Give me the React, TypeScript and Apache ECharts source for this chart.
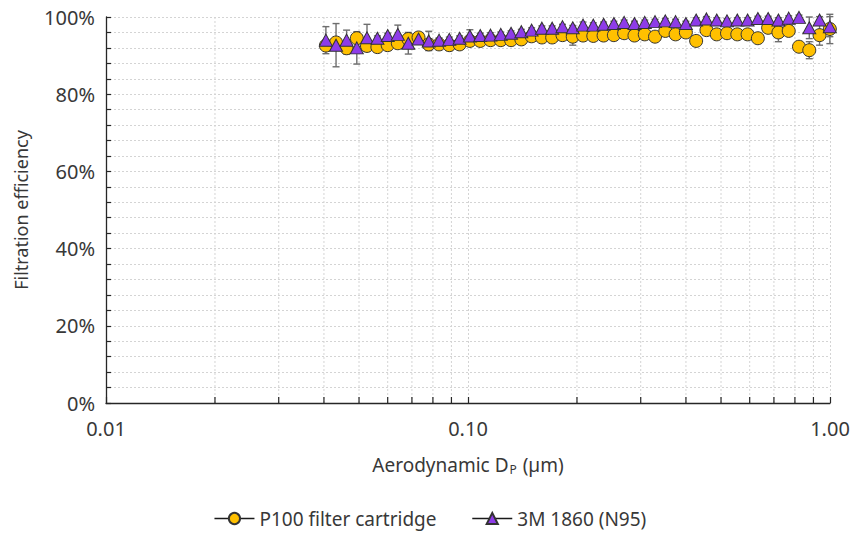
import React, { useEffect, useRef } from 'react';
import * as echarts from 'echarts';

// Aerodynamic diameter (µm) of each measured channel
const diameters = [
  0.0405, 0.0432, 0.0462, 0.0493, 0.0526, 0.0562, 0.0600, 0.0640, 0.0684, 0.0730,
  0.0779, 0.0832, 0.0888, 0.0948, 0.1012, 0.1081, 0.1154, 0.1232, 0.1315, 0.1404,
  0.1499, 0.1600, 0.1708, 0.1824, 0.1947, 0.2079, 0.2219, 0.2369, 0.2529, 0.2700,
  0.2883, 0.3078, 0.3286, 0.3508, 0.3745, 0.3998, 0.4268, 0.4557, 0.4865, 0.5194,
  0.5545, 0.5920, 0.6320, 0.6747, 0.7203, 0.7690, 0.8210, 0.8765, 0.9357, 0.9990,
];

// Filtration efficiency (%) – P100 filter cartridge
const p100Eff = [
  92.6, 93.4, 91.9, 94.5, 92.5, 92.2, 92.7, 93.2, 94.3, 94.7,
  92.9, 92.9, 92.7, 92.9, 93.8, 93.8, 94.0, 94.0, 94.0, 94.2,
  95.0, 94.7, 94.7, 95.3, 94.9, 95.2, 95.1, 95.2, 95.3, 95.8,
  95.2, 95.5, 94.9, 96.4, 95.5, 96.0, 93.8, 96.6, 95.5, 95.8,
  95.5, 95.5, 94.5, 97.2, 96.0, 96.4, 92.3, 91.4, 95.3, 96.9,
];
const p100Err = [
  0.6, 0.6, 1.5, 0.6, 0.6, 0.6, 0.6, 0.6, 0.6, 0.6,
  0.6, 0.6, 1.4, 0.6, 0.6, 0.6, 0.6, 0.6, 0.6, 0.6,
  0.6, 0.6, 0.6, 0.6, 2.2, 0.6, 0.6, 0.6, 0.6, 0.6,
  0.6, 0.6, 0.6, 0.6, 0.6, 1.2, 0.6, 0.6, 0.6, 0.6,
  0.6, 0.6, 0.6, 0.6, 2.4, 0.6, 1.2, 2.2, 2.6, 3.8,
];

// Filtration efficiency (%) – 3M 1860 (N95)
const n95Eff = [
  94.0, 92.7, 94.0, 92.0, 94.6, 94.5, 95.2, 95.5, 93.2, 94.3,
  93.8, 94.0, 94.2, 94.5, 95.1, 95.2, 95.3, 95.5, 95.8, 96.2,
  96.6, 97.1, 97.1, 97.5, 97.2, 97.9, 97.9, 98.1, 98.3, 98.6,
  98.3, 98.6, 98.8, 99.0, 98.8, 98.3, 99.2, 99.5, 99.2, 99.0,
  99.2, 99.2, 99.6, 99.6, 99.2, 99.7, 99.9, 97.2, 99.2, 97.5,
];
const n95Err = [
  3.5, 5.6, 2.6, 4.2, 3.5, 0.6, 0.6, 2.4, 2.8, 0.6,
  2.5, 0.6, 0.6, 0.6, 1.6, 0.6, 0.6, 0.6, 0.6, 0.6,
  0.6, 0.6, 0.6, 0.6, 0.6, 0.8, 0.6, 0.6, 0.6, 0.6,
  0.6, 0.6, 0.6, 0.6, 0.6, 0.6, 0.6, 0.6, 0.6, 0.6,
  0.6, 0.6, 0.6, 0.6, 0.6, 0.6, 0.6, 2.8, 0.9, 2.6,
];

const seriesNames = ['P100 filter cartridge', '3M 1860 (N95)'];
const minorXTicks = [
  0.02, 0.03, 0.04, 0.05, 0.06, 0.07, 0.08, 0.09,
  0.2, 0.3, 0.4, 0.5, 0.6, 0.7, 0.8, 0.9,
];

const FONT = '"Noto Sans", "Open Sans", sans-serif';
const TEXT = '#383838';
const AXIS = '#262626';
const GRID = '#d4d4d4';

export default function App() {
  const ref = useRef<HTMLDivElement>(null);

  useEffect(() => {
    if (!ref.current) return;
    const chart = echarts.init(ref.current, undefined, { renderer: 'svg' });

    const errorSeries = (name: string, eff: number[], err: number[]) => ({
      type: 'custom',
      name,
      z: 1,
      silent: true,
      data: diameters.map((d, i) => [d, eff[i] - err[i], eff[i] + err[i]]),
      encode: { x: 0, y: [1, 2] },
      renderItem: (params: any, api: any) => {
        const d = api.value(0);
        const lo = api.coord([d, api.value(1)]);
        const hi = api.coord([d, api.value(2)]);
        const w = 3.5;
        const style = { stroke: '#6e6e6e', lineWidth: 1.4, fill: 'none' };
        return {
          type: 'group',
          children: [
            { type: 'line', shape: { x1: lo[0], y1: lo[1], x2: hi[0], y2: hi[1] }, style },
            { type: 'line', shape: { x1: lo[0] - w, y1: lo[1], x2: lo[0] + w, y2: lo[1] }, style },
            { type: 'line', shape: { x1: hi[0] - w, y1: hi[1], x2: hi[0] + w, y2: hi[1] }, style },
          ],
        };
      },
    });

    chart.setOption({
      animation: false,
      backgroundColor: '#ffffff',
      grid: { left: 106, right: 30, top: 17, bottom: 133 },
      legend: {
        data: seriesNames,
        bottom: 3,
        left: 'center',
        itemWidth: 40,
        itemHeight: 14,
        itemGap: 35,
        textStyle: { fontSize: 19, color: TEXT, fontFamily: FONT },
        lineStyle: { width: 1.5, color: '#1a1a1a', opacity: 1 },
      },
      xAxis: {
        type: 'log',
        logBase: 10,
        min: 0.01,
        max: 1,
        name: 'Aerodynamic D{sub|P} (µm)',
        nameLocation: 'middle',
        nameGap: 52,
        nameTextStyle: {
          fontSize: 19,
          color: TEXT,
          fontFamily: FONT,
          rich: {
            sub: { fontSize: 12, color: TEXT, fontFamily: FONT, padding: [8, 1, 0, 1] },
          },
        },
        axisLine: { lineStyle: { color: AXIS, width: 1.3 } },
        axisTick: { show: true, inside: true, length: 6, lineStyle: { color: AXIS, width: 1.2 } },
        axisLabel: {
          fontSize: 20,
          color: TEXT,
          fontFamily: FONT,
          margin: 15,
          formatter: (v: number) => Number(v).toFixed(2),
        },
        splitLine: { show: true, lineStyle: { color: GRID, type: [2, 2], width: 1 } },
      },
      yAxis: {
        type: 'value',
        min: 0,
        max: 100,
        interval: 20,
        name: 'Filtration efficiency',
        nameLocation: 'middle',
        nameGap: 76,
        nameTextStyle: { fontSize: 18, color: TEXT, fontFamily: FONT },
        axisLine: { show: true, lineStyle: { color: AXIS, width: 1.3 } },
        axisTick: { show: true, inside: true, length: 5, lineStyle: { color: AXIS, width: 1.2 } },
        minorTick: { show: true, splitNumber: 5, length: 5, lineStyle: { color: AXIS, width: 1.2 } },
        axisLabel: {
          fontSize: 20,
          color: TEXT,
          fontFamily: FONT,
          margin: 11,
          formatter: '{value}%',
        },
        splitLine: { show: true, lineStyle: { color: GRID, type: [2, 2], width: 1 } },
        minorSplitLine: { show: true, lineStyle: { color: GRID, type: [2, 2], width: 1 } },
      },
      series: [
        {
          type: 'custom',
          name: 'minorX',
          z: 0,
          silent: true,
          data: minorXTicks.map((v) => [v, 0]),
          encode: { x: 0, y: 1 },
          renderItem: (params: any, api: any) => {
            const v = api.value(0);
            const bot = api.coord([v, 0]);
            const top = api.coord([v, 100]);
            return {
              type: 'group',
              children: [
                {
                  type: 'line',
                  shape: { x1: bot[0], y1: bot[1], x2: top[0], y2: top[1] },
                  style: { stroke: GRID, lineWidth: 1, lineDash: [2, 2] },
                },
                {
                  type: 'line',
                  shape: { x1: bot[0], y1: bot[1], x2: bot[0], y2: bot[1] - 6 },
                  style: { stroke: AXIS, lineWidth: 1.2 },
                },
              ],
            };
          },
        },
        errorSeries('errP100', p100Eff, p100Err),
        errorSeries('errN95', n95Eff, n95Err),
        {
          type: 'line',
          name: seriesNames[0],
          z: 3,
          data: diameters.map((d, i) => [d, p100Eff[i]]),
          symbol: 'circle',
          symbolSize: 13,
          showSymbol: true,
          lineStyle: { width: 0 },
          itemStyle: { color: '#FFC000', borderColor: '#333333', borderWidth: 1 },
          emphasis: { disabled: true },
        },
        {
          type: 'line',
          name: seriesNames[1],
          z: 4,
          data: diameters.map((d, i) => [d, n95Eff[i]]),
          symbol: 'triangle',
          symbolSize: [13, 12],
          showSymbol: true,
          lineStyle: { width: 0 },
          itemStyle: { color: '#8E3CE8', borderColor: '#333333', borderWidth: 1 },
          emphasis: { disabled: true },
        },
      ],
    });

    return () => chart.dispose();
  }, []);

  return (
    <div
      ref={ref}
      style={{ position: 'absolute', left: 0, top: 0, width: 860, height: 536 }}
    />
  );
}
